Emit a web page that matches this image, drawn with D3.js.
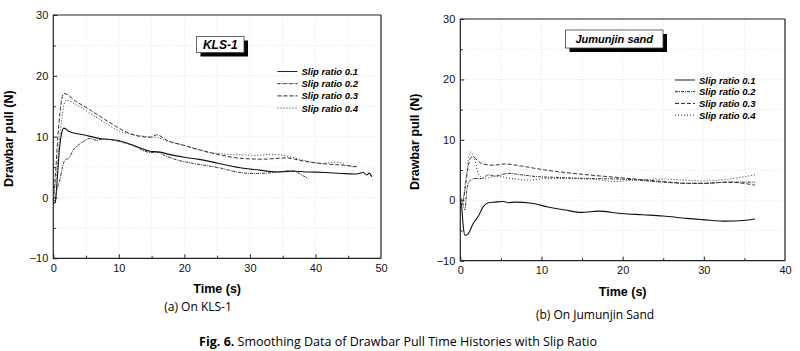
<!DOCTYPE html>
<html lang="en">
<head>
    <meta charset="UTF-8">
    <title>Drawbar pull</title>
    <script src="https://cdn.jsdelivr.net/npm/d3@7/dist/d3.min.js"></script>
    <style>
        body { margin: 0; background: #fff; }
        .tick text { font-family: "Liberation Sans", Arial, sans-serif; font-size: 11px; fill: #111; }
        .tick line { stroke: #222; }
    </style>
</head>
<body>
    <svg width="800" height="351" id="mainsvg" style="display: block;"></svg>
    <script>
        // legend labels, one per series
        const slipLabels = ["Slip ratio 0.1", "Slip ratio 0.2", "Slip ratio 0.3", "Slip ratio 0.4"];

        // (a) KLS-1, pairs of [time s, drawbar pull N]
        const klsSlip01 = [[0,-1],[0.3,-0.8],[0.6,3],[0.9,7.5],[1.2,10.2],[1.6,11.4],[2.5,10.8],[4.6,10.3],[7.1,9.7],[9.7,9.4],[12.2,8.6],[14.8,7.6],[16,7.5],[18,7.0],[20,6.6],[22,6.3],[24,5.9],[26.5,5.3],[29,4.8],[31.5,4.5],[34,4.2],[36.5,4.3],[39,4.2],[41.5,4.1],[44,3.95],[46.3,3.85],[47.3,4.1],[47.8,3.7],[48.2,4.0],[48.6,3.4]];
        const klsSlip02 = [[0,-1.2],[0.3,0],[0.6,1.5],[1.0,2.9],[1.4,5],[1.8,6.2],[2.3,6.4],[3.05,7.8],[3.8,8.6],[4.6,9.2],[5.6,9.7],[6.6,9.4],[7.6,9.6],[9.7,9.3],[12.2,8.5],[14.8,7.4],[16,7.4],[16.8,7.0],[18.8,6.2],[21.4,5.6],[25.2,4.9],[28,4.2],[30.5,3.95],[32.5,4.0],[34.1,4.2],[36.6,4.4],[37.9,3.7],[38.9,3.1]];
        const klsSlip03 = [[0,-0.5],[0.4,5],[0.7,10],[1.0,13.8],[1.6,17.1],[3.6,15.7],[5.6,14.4],[7.6,13.0],[9.7,11.6],[11.7,10.5],[13.5,10.0],[14.8,9.9],[15.8,10.3],[17.3,9.4],[19.8,8.6],[22.4,7.8],[25.4,7.0],[29,6.4],[32,6.3],[35.6,6.5],[38.1,6.0],[41.7,5.5],[44.3,5.3],[46.3,5.05]];
        const klsSlip04 = [[0,-0.3],[0.5,4],[0.9,9],[1.3,13],[1.94,16.0],[3.6,15.2],[6.1,13.5],[8,12.2],[9.7,11.1],[12.2,10.3],[14.5,10.0],[16,9.8],[17.3,9.3],[19.8,8.6],[22,7.9],[23.9,7.4],[26.5,7.1],[29,7.0],[31,6.9],[33.1,7.1],[35.6,6.8],[38.1,6.15],[40.7,5.6],[43.2,5.8],[44.8,5.3],[46,4.95]];

        // (b) Jumunjin sand
        const jmjSlip01 = [[0,0],[0.17,-1.1],[0.37,-4.4],[0.58,-5.8],[1.0,-5.5],[1.6,-3.8],[2.2,-2.7],[2.8,-1.1],[3.45,-0.4],[4.25,-0.3],[5.3,-0.2],[5.9,-0.4],[6.75,-0.3],[8.8,-0.5],[10.8,-1.1],[12.9,-1.6],[14.95,-2.0],[17,-1.8],[19.9,-2.2],[22.5,-2.4],[25,-2.6],[27.9,-3.0],[29.9,-3.2],[32.8,-3.45],[34.4,-3.4],[36.3,-3.1]];
        const jmjSlip02 = [[0,0.5],[0.2,0],[0.58,-1.6],[0.8,1.7],[1.2,3.3],[1.8,3.6],[2.6,3.6],[3.45,4.2],[4.3,4.0],[5.9,4.45],[7.6,4.2],[9.6,3.9],[11.6,3.8],[15.8,3.6],[19.9,3.5],[25,3.0],[28,2.8],[30,2.8],[33,3.0],[36.3,3.0]];
        const jmjSlip03 = [[0,-1],[0.3,-0.5],[0.6,2],[0.9,5],[1.2,6.8],[1.5,7.2],[2.6,6.1],[3.9,5.8],[5.5,6.0],[7.6,5.65],[10,5.1],[12.9,4.6],[15.8,4.2],[20,3.7],[25,3.1],[28,2.8],[30,2.8],[33,3.0],[36.3,2.5]];
        const jmjSlip04 = [[0,0],[0.25,0],[0.78,4.4],[1.2,8.0],[1.8,6.65],[2.2,4.45],[3.0,3.6],[4.3,4.0],[6.3,3.6],[8.4,3.35],[10.8,3.6],[13.7,3.6],[16.5,3.45],[19.05,3.1],[22,3.4],[25,3.5],[30,3.2],[33.6,3.6],[36.3,4.2]];

        const klsXTicks = [0, 10, 20, 30, 40, 50];
        const jmjXTicks = [0, 10, 20, 30, 40];
        const yTicks = [-10, 0, 10, 20, 30];

        const dashes = ["none", "3,1,1,1", "4,2", "1,2"];
        const svg = d3.select("#mainsvg");

        function drawPanel(p) {
            const x = d3.scaleLinear().domain([0, p.xMax]).range([p.left, p.right]);
            const y = d3.scaleLinear().domain([-10, 30]).range([p.bottom, p.top]);
            const g = svg.append("g");

            // faint dotted grid every 5 units
            g.selectAll(".gx").data(d3.range(5, p.xMax, 5)).join("line")
                .attr("x1", d => x(d)).attr("x2", d => x(d))
                .attr("y1", p.top).attr("y2", p.bottom)
                .attr("stroke", "#e3e3e3").attr("stroke-dasharray", "1,2");
            g.selectAll(".gy").data(d3.range(-5, 30, 5)).join("line")
                .attr("x1", p.left).attr("x2", p.right)
                .attr("y1", d => y(d)).attr("y2", d => y(d))
                .attr("stroke", "#e3e3e3").attr("stroke-dasharray", "1,2");

            // axes: major ticks with labels, minor ticks without
            g.append("g").attr("transform", `translate(0,${p.bottom})`)
                .call(d3.axisBottom(x).tickValues(p.xTicks).tickSize(-4).tickPadding(6).tickFormat(d3.format("d")))
                .call(a => a.select(".domain").remove());
            g.append("g").attr("transform", `translate(0,${p.bottom})`)
                .call(d3.axisBottom(x).tickValues(d3.range(5, p.xMax, 10)).tickSize(-2.5).tickFormat(""))
                .call(a => a.select(".domain").remove());
            g.append("g").attr("transform", `translate(${p.left},0)`)
                .call(d3.axisLeft(y).tickValues(yTicks).tickSize(-4).tickPadding(5))
                .call(a => a.select(".domain").remove());
            g.append("g").attr("transform", `translate(${p.left},0)`)
                .call(d3.axisLeft(y).tickValues([-5, 5, 15, 25]).tickSize(-2.5).tickFormat(""))
                .call(a => a.select(".domain").remove());

            // frame
            g.append("line").attr("x1", p.right).attr("x2", p.right).attr("y1", p.top).attr("y2", p.bottom)
                .attr("stroke", "#777").attr("stroke-width", 2);
            g.append("path")
                .attr("d", `M${p.right},${p.top}H${p.left}V${p.bottom}H${p.right}`)
                .attr("fill", "none").attr("stroke", "#222").attr("stroke-width", 1.2);

            const line = d3.line().x(d => x(d[0])).y(d => y(d[1])).curve(d3.curveMonotoneX);
            g.selectAll(".series").data(p.series).join("path")
                .attr("d", line)
                .attr("fill", "none")
                .attr("stroke", (d, i) => i == 0 ? "#111" : "#333")
                .attr("stroke-width", (d, i) => i == 0 ? 1.1 : 1)
                .attr("stroke-dasharray", (d, i) => dashes[i]);

            // title box with shadow
            g.append("rect").attr("x", p.box[0] + 4).attr("y", p.box[1] + 4)
                .attr("width", p.box[2]).attr("height", p.box[3]).attr("fill", "#000");
            g.append("rect").attr("x", p.box[0]).attr("y", p.box[1])
                .attr("width", p.box[2]).attr("height", p.box[3])
                .attr("fill", "#fff").attr("stroke", "#444").attr("stroke-width", 0.8);
            g.append("text").attr("x", p.box[0] + p.box[2] / 2).attr("y", p.box[1] + p.box[3] / 2 + 4)
                .attr("text-anchor", "middle")
                .style("font", `italic bold ${p.boxFont}px 'Liberation Sans', Arial, sans-serif`)
                .text(p.title);

            // legend
            const lg = g.selectAll(".lg").data(slipLabels).join("g")
                .attr("transform", (d, i) => `translate(${p.legend[0]},${p.legend[1] + i * p.legendStep})`);
            lg.append("line").attr("x1", 0).attr("x2", 20)
                .attr("stroke", "#222").attr("stroke-dasharray", (d, i) => dashes[i]);
            lg.append("text").attr("x", 24).attr("y", 3.5)
                .style("font", "italic bold 9.5px 'Liberation Sans', Arial, sans-serif")
                .text(d => d);

            // axis titles
            g.append("text").attr("x", (p.left + p.right) / 2).attr("y", p.xTitleY)
                .attr("text-anchor", "middle")
                .style("font", "bold 12.5px 'Liberation Sans', Arial, sans-serif")
                .text("Time (s)");
            g.append("text")
                .attr("transform", `translate(${p.yTitleX},${(p.top + p.bottom) / 2 + 2}) rotate(-90)`)
                .attr("text-anchor", "middle")
                .style("font", "bold 12.5px 'Liberation Sans', Arial, sans-serif")
                .text("Drawbar pull (N)");

            g.append("text").attr("x", p.capX).attr("y", p.capY)
                .attr("text-anchor", "middle")
                .style("font", "12px 'Open Sans', sans-serif")
                .text(p.caption);
        }

        drawPanel({
            left: 53.3, right: 381, top: 15, bottom: 258.3, xMax: 50, xTicks: klsXTicks,
            series: [klsSlip01, klsSlip02, klsSlip03, klsSlip04],
            title: "KLS-1", box: [196.5, 36.5, 47.5, 16], boxFont: 12,
            legend: [277.5, 71.5], legendStep: 12.2,
            xTitleY: 292.5, yTitleX: 13,
            caption: "(a) On KLS-1", capX: 198, capY: 311
        });
        drawPanel({
            left: 460.3, right: 785, top: 19, bottom: 260.7, xMax: 40, xTicks: jmjXTicks,
            series: [jmjSlip01, jmjSlip02, jmjSlip03, jmjSlip04],
            title: "Jumunjin sand", box: [565.5, 30, 97.5, 18], boxFont: 11,
            legend: [675, 80], legendStep: 11.7,
            xTitleY: 296, yTitleX: 419,
            caption: "(b) On Jumunjin Sand", capX: 595, capY: 318.5
        });

        const cap = svg.append("text").attr("x", 398).attr("y", 346)
            .attr("text-anchor", "middle")
            .style("font", "12.5px 'Open Sans', sans-serif");
        cap.append("tspan").style("font-weight", "bold").text("Fig. 6.");
        cap.append("tspan").text(" Smoothing Data of Drawbar Pull Time Histories with Slip Ratio");
    </script>
</body>
</html>
